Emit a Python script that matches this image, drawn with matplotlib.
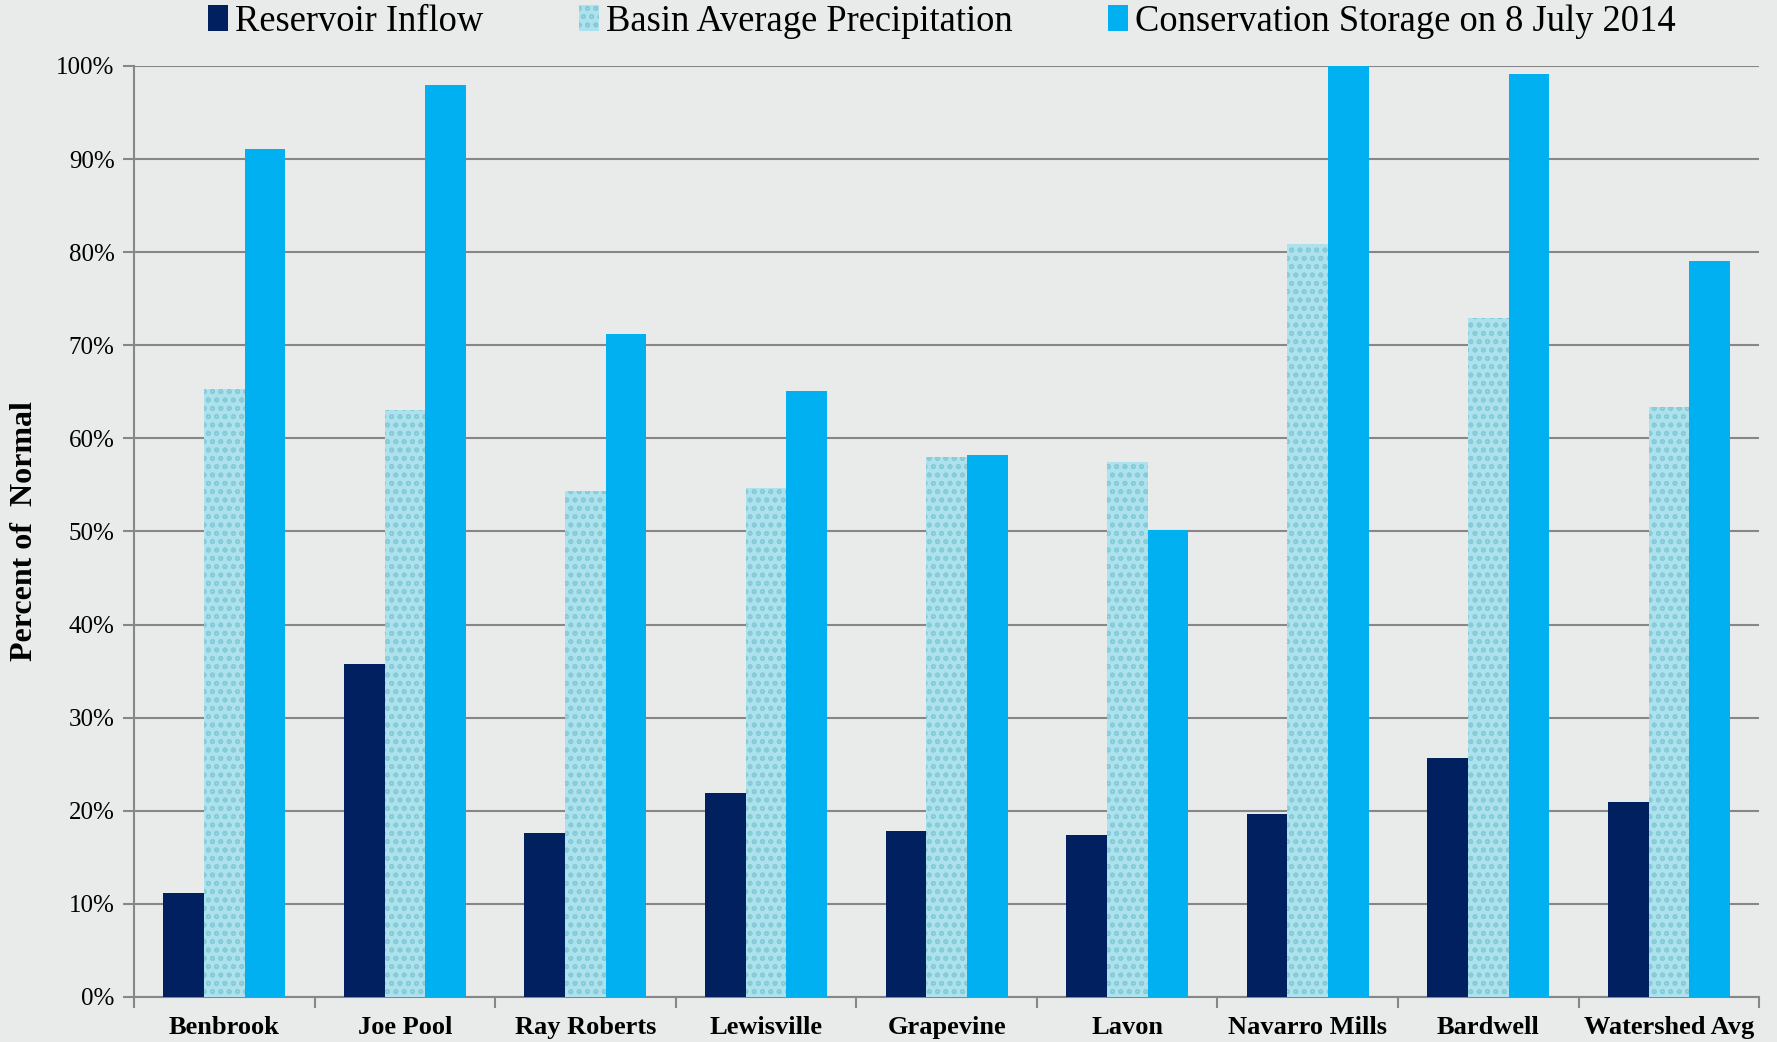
import matplotlib
matplotlib.use("Agg")
import matplotlib.pyplot as plt
import numpy as np

# values (percent of normal)
reservoirs = ["Benbrook", "Joe Pool", "Ray Roberts", "Lewisville", "Grapevine",
              "Lavon", "Navarro Mills", "Bardwell", "Watershed Avg"]
inflow = [11.2, 35.8, 17.6, 21.9, 17.8, 17.4, 19.7, 25.7, 20.9]
precip = [65.3, 63.1, 54.4, 54.7, 58.0, 57.5, 80.9, 72.9, 63.4]
storage = [91.1, 98.0, 71.2, 65.1, 58.2, 50.2, 100.0, 99.1, 79.1]
y_ticks = [0, 10, 20, 30, 40, 50, 60, 70, 80, 90, 100]

plt.rcParams['font.family'] = ['Liberation Serif', 'DejaVu Serif']
plt.rcParams['hatch.linewidth'] = 1.2

fig = plt.figure(figsize=(17.77, 10.42), dpi=100)
fig.patch.set_facecolor("#e9ebea")
ax = fig.add_axes([0.0754, 0.0432, 0.9146, 0.8935])
ax.set_facecolor("#e9ebea")

x = np.arange(len(reservoirs))
w = 0.225
ax.bar(x - w, inflow, width=w, color="#002060", label="Reservoir Inflow", zorder=3)
ax.bar(x, precip, width=w, color="#ade2ec", edgecolor="#86cbd9", hatch="oo",
       linewidth=0, label="Basin Average Precipitation", zorder=3)
ax.bar(x + w, storage, width=w, color="#00b0f0",
       label="Conservation Storage on 8 July 2014", zorder=3)

ax.set_xlim(-0.5, len(reservoirs) - 0.5)
ax.set_ylim(0, 100)
ax.set_yticks(y_ticks)
ax.set_yticklabels([f"{v}%" for v in y_ticks], fontsize=18)
ax.yaxis.grid(True, color="#878787", linewidth=1.5, zorder=0)
ax.set_axisbelow(True)

ax.set_xticks(x)
ax.set_xticklabels(reservoirs, fontsize=19, fontweight="bold")
ax.set_xticks(np.arange(len(reservoirs) + 1) - 0.5, minor=True)
ax.tick_params(axis="x", which="major", length=0, pad=14)
ax.tick_params(axis="x", which="minor", length=8, width=1.5, color="#878787")
ax.tick_params(axis="y", length=8, width=1.5, color="#878787", pad=6)

for s in ["top", "right"]:
    ax.spines[s].set_visible(False)
for s in ["left", "bottom"]:
    ax.spines[s].set_color("#878787")
    ax.spines[s].set_linewidth(1.5)

ax.set_ylabel("Percent of  Normal", fontsize=23, fontweight="bold", labelpad=12)

fig.legend(loc="upper center", bbox_to_anchor=(0.53, 1.01), ncol=3, frameon=False,
           fontsize=26.3, handlelength=0.55, handleheight=0.75, handletextpad=0.2,
           columnspacing=2.6, borderaxespad=0)

fig.savefig("out.png", dpi=100, facecolor=fig.get_facecolor())
